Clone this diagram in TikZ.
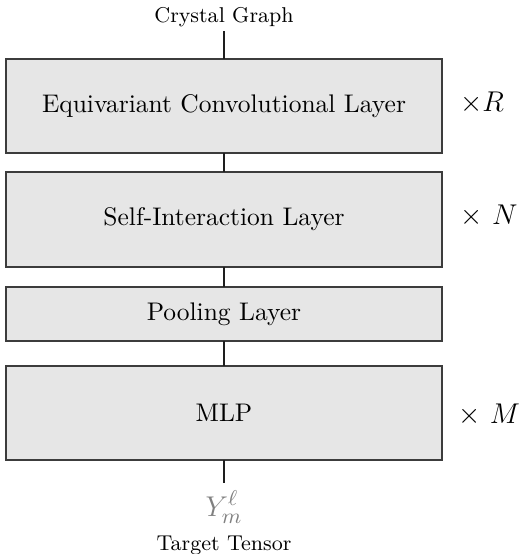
\documentclass[tikz,border=0pt]{standalone}
\usepackage{amsmath}
\begin{document}
\begin{tikzpicture}[x=0.42pt,y=0.42pt,yscale=-1,xscale=1,
    layerbox/.style={draw={rgb, 255:red, 60; green, 60; blue, 60}, fill={rgb, 255:red, 230; green, 230; blue, 230}, line width=0.5pt, font=\fontsize{10.7}{13}\selectfont},
    plain/.style={inner sep=0pt, font=\fontsize{9}{11}\selectfont},
    link/.style={draw={rgb, 255:red, 30; green, 30; blue, 30}, line width=0.5pt}]
        \useasboundingbox (0,0) rectangle (522,554);
        % layers
        \draw [layerbox] (6,59) rectangle (442,153) node [midway] (conv) {Equivariant Convolutional Layer};
        \draw [layerbox] (6,172) rectangle (442,267) node [midway] (self) {Self-Interaction Layer};
        \draw [layerbox] (6,287) rectangle (442,341) node [midway] (pool) {Pooling Layer};
        \draw [layerbox] (6,366) rectangle (442,460) node [midway] (mlp) {MLP};
        \coordinate (convtop) at (224,59);
        \coordinate (convbot) at (224,153);
        \coordinate (selftop) at (224,172);
        \coordinate (selfbot) at (224,267);
        \coordinate (pooltop) at (224,287);
        \coordinate (poolbot) at (224,341);
        \coordinate (mlptop) at (224,366);
        \coordinate (mlpbot) at (224,460);
        \coordinate (outend) at (224,483);
        % input and output
        \draw (224,17) node [plain] (graph) {Crystal Graph};
        \draw (224,507) node [inner sep=0pt] (ylm) {\fontsize{13}{15}\selectfont$\color{gray}Y_m^{\ell}$};
        \draw (224,545) node [plain] (target) {Target Tensor};
        % repeats
        \draw (482,103) node [inner sep=0.75pt] (rrep) {\large$\times R$};
        \draw (489,216) node [inner sep=0.75pt] (nrep) {\large$\times\ N$};
        \draw (489,415) node [inner sep=0.75pt] (mrep) {\large$\times\ M$};
        % links
        \draw [link] (224,31) -- (convtop);
        \draw [link] (convbot) -- (selftop);
        \draw [link] (selfbot) -- (pooltop);
        \draw [link] (poolbot) -- (mlptop);
        \draw [link] (mlpbot) -- (outend);
\end{tikzpicture}
\end{document}
